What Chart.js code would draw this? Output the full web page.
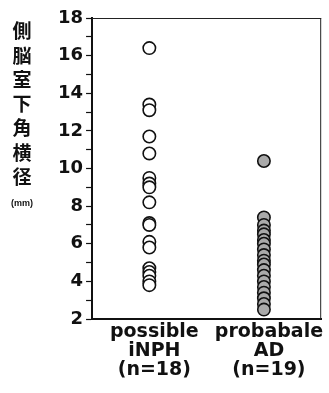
<!DOCTYPE html>
<html>
<head>
<meta charset="utf-8">
<script src="https://cdn.jsdelivr.net/npm/chart.js@4/dist/chart.umd.min.js"></script>
<style>
  html, body { margin: 0; padding: 0; background: #fff; }
  #wrap { position: relative; width: 329px; height: 393px; }
</style>
</head>
<body>
<div id="wrap"><canvas id="c" width="329" height="393"></canvas></div>
<script>
// Group labels (one entry per line of text under each column)
const groupLabels = [
  ['possible', 'iNPH', '(n=18)'],
  ['probabale', 'AD', '(n=19)']
];
// Temporal horn width (mm) per patient
const inphValues = [16.4, 13.4, 13.1, 11.7, 10.8, 9.5, 9.2, 9.0, 8.2, 7.1, 7.0, 6.1, 5.8, 4.7, 4.5, 4.3, 4.0, 3.8];
const adValues = [10.4, 7.4, 7.0, 6.7, 6.5, 6.2, 6.0, 5.7, 5.4, 5.1, 4.9, 4.6, 4.3, 4.0, 3.7, 3.4, 3.1, 2.8, 2.5];
// Y axis range and label text
const yMin = 2, yMax = 18;
const yTitleChars = ['側', '脳', '室', '下', '角', '横', '径'];
const yTitleUnit = '(mm)';

const toPoints = (vals, x) => vals.map(v => ({ x: x, y: v }));

// Frame around the plot area plus the stacked vertical axis title
const framePlugin = {
  id: 'frame',
  afterDraw(chart) {
    const { ctx, chartArea: a } = chart;
    ctx.save();
    ctx.strokeStyle = '#222';
    ctx.lineWidth = 1;
    ctx.beginPath();
    ctx.moveTo(a.left, a.top + 0.5);
    ctx.lineTo(a.right, a.top + 0.5);
    ctx.moveTo(a.right - 0.5, a.top);
    ctx.lineTo(a.right - 0.5, a.bottom);
    ctx.stroke();

    ctx.fillStyle = '#111';
    ctx.textAlign = 'center';
    ctx.textBaseline = 'middle';
    ctx.font = 'bold 19px "Noto Sans CJK JP"';
    const cx = 22;
    yTitleChars.forEach((ch, i) => {
      ctx.fillText(ch, cx, 31 + i * 24.3);
    });
    ctx.font = 'bold 9px "Liberation Sans"';
    ctx.fillText(yTitleUnit, cx, 204);
    ctx.restore();
  }
};

new Chart(document.getElementById('c'), {
  type: 'scatter',
  data: {
    datasets: [
      {
        data: toPoints(inphValues, 1),
        pointRadius: 6.2,
        pointHoverRadius: 6.2,
        pointBorderWidth: 1.6,
        pointBorderColor: '#111',
        pointBackgroundColor: '#fff'
      },
      {
        data: toPoints(adValues, 2),
        pointRadius: 6.2,
        pointHoverRadius: 6.2,
        pointBorderWidth: 1.6,
        pointBorderColor: '#111',
        pointBackgroundColor: '#aaa'
      }
    ]
  },
  options: {
    responsive: false,
    animation: false,
    layout: { padding: { left: 55, right: 2, top: 18, bottom: 9 } },
    plugins: { legend: { display: false }, tooltip: { enabled: false } },
    scales: {
      x: {
        type: 'linear',
        min: 0.5,
        max: 2.5,
        afterBuildTicks: (scale) => { scale.ticks = [{ value: 1 }, { value: 2 }]; },
        grid: { display: true, drawOnChartArea: false, drawTicks: false },
        border: { display: true, color: '#111', width: 2 },
        ticks: {
          color: '#111',
          padding: 4,
          labelOffset: 5,
          maxRotation: 0,
          autoSkip: false,
          font: { family: '"DejaVu Sans"', weight: 'bold', size: 19, lineHeight: 1.0 },
          callback: (v) => groupLabels[Math.round(v) - 1] || ''
        }
      },
      y: {
        min: yMin,
        max: yMax,
        afterBuildTicks: (scale) => {
          const t = [];
          for (let v = yMin; v <= yMax; v++) t.push({ value: v });
          scale.ticks = t;
        },
        grid: { display: true, drawOnChartArea: false, drawTicks: true, tickLength: 6, tickColor: '#111', tickWidth: 1.2 },
        border: { display: true, color: '#111', width: 2 },
        ticks: {
          color: '#111',
          padding: 3,
          autoSkip: false,
          font: { family: '"DejaVu Sans"', weight: 'bold', size: 18 },
          callback: (v) => (v % 2 === 0 ? String(v) : '')
        }
      }
    }
  },
  plugins: [framePlugin]
});
</script>
</body>
</html>
